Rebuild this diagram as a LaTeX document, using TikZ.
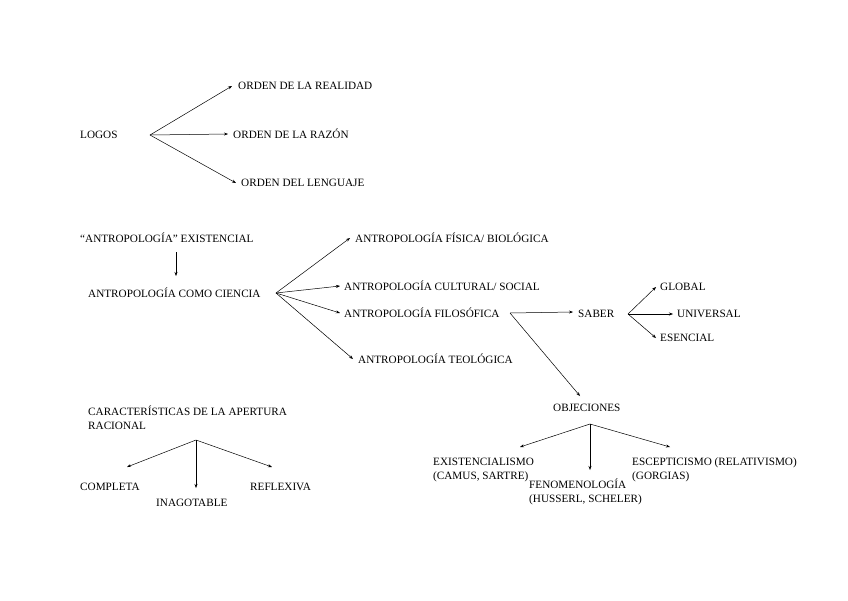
\documentclass[tikz,border=0pt]{standalone}
\usepackage{fontspec}
\setmainfont{Liberation Serif}
\usetikzlibrary{arrows.meta}
\begin{document}
\begin{tikzpicture}[x=1pt,y=-1pt,
  t/.style={anchor=west,inner sep=0pt,font=\fontsize{11.2}{14}\selectfont,align=left},
  ar/.style={-{Stealth[length=4pt,width=3pt]},line width=0.5pt}]
\fill[white] (0,0) rectangle (848,600);
\node[t] (logos) at (80,135) {LOGOS};
\node[t] (o1) at (238,86) {ORDEN DE LA REALIDAD};
\node[t] (o2) at (233,134) {ORDEN DE LA RAZÓN};
\node[t] (o3) at (241,183) {ORDEN DEL LENGUAJE};
\coordinate (lg) at (150,135);
\draw[ar] (lg) -- ([xshift=-6pt]o1.west);
\draw[ar] (lg) -- ([xshift=-5pt]o2.west);
\draw[ar] (lg) -- ([xshift=-5pt]o3.west);

\node[t] (ex) at (80,238) {“ANTROPOLOGÍA” EXISTENCIAL};
\node[t] (ac) at (88,293) {ANTROPOLOGÍA COMO CIENCIA};
\draw[ar] (176,252) coordinate (exb) -- (176,276) coordinate (act);
\node[t] (a1) at (355,238) {ANTROPOLOGÍA FÍSICA/ BIOLÓGICA};
\node[t] (a2) at (344,286) {ANTROPOLOGÍA CULTURAL/ SOCIAL};
\node[t] (a3) at (344,313) {ANTROPOLOGÍA FILOSÓFICA};
\node[t] (a4) at (358,359) {ANTROPOLOGÍA TEOLÓGICA};
\coordinate (acr) at (276,293);
\draw[ar] (acr) -- ([xshift=-5pt]a1.west);
\draw[ar] (acr) -- ([xshift=-4pt]a2.west);
\draw[ar] (acr) -- ([xshift=-4pt]a3.west);
\draw[ar] (acr) -- ([xshift=-5pt]a4.west);

\node[t] (sab) at (578,314) {SABER};
\node[t] (obj) at (553,408) {OBJECIONES};
\coordinate (fr) at (510,313);
\draw[ar] (fr) -- ([xshift=-5pt,yshift=2pt]sab.west);
\draw[ar] (fr) -- (580,396) coordinate (objt);
\node[t] (g) at (660,287) {GLOBAL};
\node[t] (u) at (677,314) {UNIVERSAL};
\node[t] (e) at (660,338) {ESENCIAL};
\coordinate (sr) at (628,314);
\draw[ar] (sr) -- ([xshift=-4pt]g.west);
\draw[ar] (sr) -- ([xshift=-4pt]u.west);
\draw[ar] (sr) -- ([xshift=-4pt]e.west);

\node[t] (b1) at (433,470) {EXISTENCIALISMO\\(CAMUS, SARTRE)};
\node[t] (b2) at (529,492) {FENOMENOLOGÍA\\(HUSSERL, SCHELER)};
\node[t] (b3) at (632,470) {ESCEPTICISMO (RELATIVISMO)\\(GORGIAS)};
\coordinate (ob) at (590,424);
\draw[ar] (ob) -- (520,447);
\draw[ar] (ob) -- (590,470);
\draw[ar] (ob) -- (670,447);

\node[t] (car) at (88,418) {CARACTERÍSTICAS DE LA APERTURA\\RACIONAL};
\node[t] (c1) at (80,487) {COMPLETA};
\node[t] (c2) at (156,503) {INAGOTABLE};
\node[t] (c3) at (250,487) {REFLEXIVA};
\coordinate (cb) at (196,440);
\draw[ar] (cb) -- (127,467);
\draw[ar] (cb) -- (196,488);
\draw[ar] (cb) -- (272,467);
\end{tikzpicture}
\end{document}
